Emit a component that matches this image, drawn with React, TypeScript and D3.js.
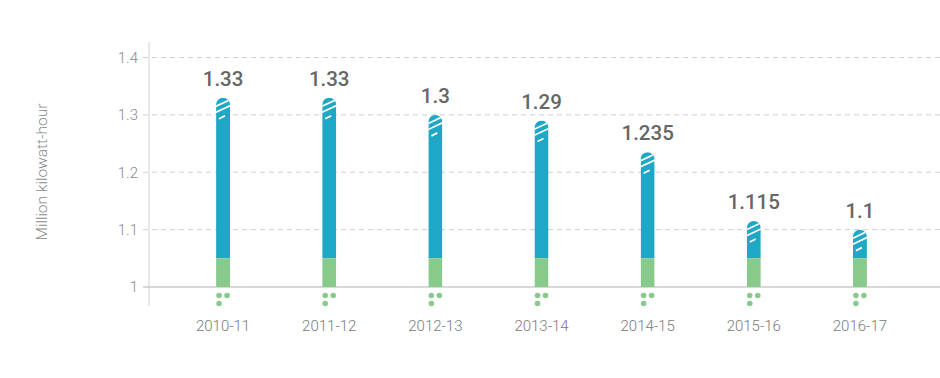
import React from "react";
import * as d3 from "d3";

const categories = ["2010-11", "2011-12", "2012-13", "2013-14", "2014-15", "2015-16", "2016-17"];
const values = [1.33, 1.33, 1.3, 1.29, 1.235, 1.115, 1.1];
const valueLabels = ["1.33", "1.33", "1.3", "1.29", "1.235", "1.115", "1.1"];
const greenTop = 1.05;
const yTicks = [1, 1.1, 1.2, 1.3, 1.4];
const yTickLabels = ["1", "1.1", "1.2", "1.3", "1.4"];

const W = 940;
const H = 378;
const BLUE = "#1fa8c5";
const GREEN = "#88c98c";

export default function App() {
  const x = d3.scaleBand<string>().domain(categories).range([170, 913]).paddingInner(0).paddingOuter(0);
  const y = d3.scaleLinear().domain([1, 1.4]).range([287, 57.5]);
  const barW = 14;
  const axisX = 149;
  const font = "Roboto, 'Open Sans', sans-serif";

  return (
    <svg width={W} height={H} style={{ position: "absolute", left: 0, top: 0 }}>
      <rect width={W} height={H} fill="#fff" />
      {yTicks.map((t, i) =>
        t === 1 ? null : (
          <line key={"g" + i} x1={axisX - 6} x2={W} y1={y(t)} y2={y(t)} stroke="#cfcfcf" strokeWidth={1} strokeDasharray="5,4" />
        )
      )}
      <line x1={axisX - 6} x2={W} y1={y(1)} y2={y(1)} stroke="#d8d8d8" strokeWidth={2} />
      <line x1={axisX} x2={axisX} y1={42} y2={306} stroke="#d0d0d0" strokeWidth={1} />
      {yTicks.map((t, i) => (
        <text key={"t" + i} x={axisX - 11} y={y(t)} dy="0.35em" textAnchor="end" fontFamily={font} fontWeight={300} fontSize={15} fill="#8a8a8a">
          {yTickLabels[i]}
        </text>
      ))}
      <text transform={`translate(47,172) rotate(-90)`} textAnchor="middle" fontFamily={font} fontWeight={300} fontSize={15.5} fill="#8a8a8a">
        Million kilowatt-hour
      </text>
      <defs>
        {categories.map((c, i) => {
          const cx = (x(c) as number) + x.bandwidth() / 2;
          const top = y(values[i]);
          return (
            <clipPath id={"clip" + i} key={"cp" + i}>
              <rect x={cx - barW / 2} y={top} width={barW} height={y(1) - top + 10} rx={barW / 2} ry={barW / 2} />
            </clipPath>
          );
        })}
      </defs>
      {categories.map((c, i) => {
        const cx = (x(c) as number) + x.bandwidth() / 2;
        const x0 = cx - barW / 2;
        const top = y(values[i]);
        const gTop = y(greenTop);
        return (
          <g key={c}>
            <g clipPath={`url(#clip${i})`}>
              <rect x={x0} y={top} width={barW} height={gTop - top} fill={BLUE} />
              <rect x={x0} y={gTop} width={barW} height={y(1) - gTop} fill={GREEN} />
              {[0, 1, 2].map((k) => (
                <line
                  key={k}
                  x1={k === 2 ? x0 + 3 : x0 - 1}
                  y1={top + 9 + k * 6}
                  x2={k === 2 ? x0 + 9 : x0 + barW + 1}
                  y2={top + 9 + k * 6 - (k === 2 ? 3 : 7.5)}
                  stroke="#fff"
                  strokeWidth={1.7}
                />
              ))}
            </g>
            <circle cx={cx - 4} cy={295.5} r={2.8} fill={GREEN} />
            <circle cx={cx + 4} cy={295.5} r={2.8} fill={GREEN} />
            <circle cx={cx - 4} cy={303.5} r={2.8} fill={GREEN} />
            <text x={cx} y={top - 12} textAnchor="middle" fontFamily={font} fontWeight={500} fontSize={20.5} fill="#666">
              {valueLabels[i]}
            </text>
            <text x={cx} y={331} textAnchor="middle" fontFamily={font} fontWeight={300} fontSize={15} fill="#7a7a7a">
              {c}
            </text>
          </g>
        );
      })}
    </svg>
  );
}
